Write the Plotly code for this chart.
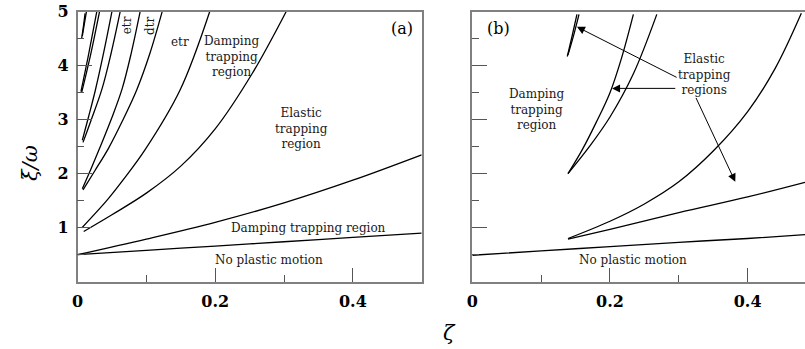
import plotly.graph_objects as go

# ---------------- Panel (a) data ----------------
a_low_x = [0, 0.1, 0.2, 0.3, 0.4, 0.5]
a_low_y = [0.5, 0.58, 0.66, 0.74, 0.82, 0.9]

a_up_x = [0, 0.1, 0.2, 0.3, 0.4, 0.5]
a_up_y = [0.5, 0.79, 1.1, 1.46, 1.88, 2.35]

# pair A (cusp near 0.95)
aA_in_x = [0.0065, 0.043, 0.066, 0.098, 0.149, 0.192]
aA_in_y = [1.0, 1.51, 1.88, 2.44, 3.55, 5.0]
aA_out_x = [0.009, 0.05, 0.1, 0.15, 0.2, 0.254, 0.303]
aA_out_y = [0.93, 1.24, 1.64, 2.14, 2.83, 3.86, 5.0]

# pair B (cusp near 1.72)
aB_in_x = [0.007, 0.02, 0.035, 0.05, 0.065, 0.078, 0.091]
aB_in_y = [1.72, 2.1, 2.56, 3.04, 3.58, 4.23, 5.0]
aB_out_x = [0.008, 0.025, 0.045, 0.065, 0.086, 0.105, 0.123]
aB_out_y = [1.70, 2.05, 2.47, 2.97, 3.55, 4.22, 5.0]

# pair C (cusp near 2.6)
aC_in_x = [0.007, 0.016, 0.026, 0.038, 0.05]
aC_in_y = [2.62, 3.05, 3.55, 4.24, 5.0]
aC_out_x = [0.008, 0.02, 0.0356, 0.049, 0.062]
aC_out_y = [2.58, 3.0, 3.57, 4.24, 5.0]

# pair D (cusp near 3.5)
aD_in_x = [0.005, 0.016, 0.028]
aD_in_y = [3.52, 4.2, 5.0]
aD_out_x = [0.006, 0.019, 0.032]
aD_out_y = [3.50, 4.2, 5.0]

# pair E (cusp near 4.5)
aE_in_x = [0.006, 0.0085, 0.011]
aE_in_y = [4.5, 4.72, 4.97]
aE_out_x = [0.007, 0.010, 0.013]
aE_out_y = [4.55, 4.78, 5.0]

# ---------------- Panel (b) data ----------------
b_low_x = [0, 0.1, 0.2, 0.3, 0.4, 0.4833]
b_low_y = [0.49, 0.57, 0.65, 0.73, 0.80, 0.87]

b_mid_x = [0.139, 0.2, 0.3, 0.4, 0.4833]
b_mid_y = [0.79, 0.97, 1.28, 1.57, 1.84]

b_big_x = [0.139, 0.2, 0.25, 0.3, 0.35, 0.4, 0.44, 0.478]
b_big_y = [0.80, 1.12, 1.44, 1.85, 2.42, 3.15, 3.95, 4.97]

b_in_x = [0.139, 0.16, 0.18, 0.2, 0.217, 0.234]
b_in_y = [2.0, 2.45, 2.95, 3.5, 4.15, 4.95]
b_out_x = [0.139, 0.17, 0.2, 0.234, 0.268]
b_out_y = [2.0, 2.5, 3.05, 3.85, 4.95]

b_sl1_x = [0.138, 0.145, 0.152]
b_sl1_y = [4.17, 4.55, 4.95]
b_sl2_x = [0.139, 0.148, 0.155]
b_sl2_y = [4.2, 4.6, 4.95]

# arrows in (b): (head_x, head_y, tail_x, tail_y)
arrow_head_x = [0.152, 0.203, 0.382]
arrow_head_y = [4.72, 3.58, 1.85]
arrow_tail_x = [0.299, 0.297, 0.324]
arrow_tail_y = [3.77, 3.58, 3.43]

x_tick_vals = [0, 0.2, 0.4]
x_tick_text = ["0", "0.2", "0.4"]
x_minor_vals = [0.1, 0.3, 0.5]
y_tick_vals = [1, 2, 3, 4, 5]
y_tick_text = ["1", "2", "3", "4", "5"]
y_minor_vals = [0.5, 1.5, 2.5, 3.5, 4.5]

SERIF = "DejaVu Serif"
LINE = dict(color="black", width=1.3)

curves_a = [
    (a_low_x, a_low_y), (a_up_x, a_up_y),
    (aA_in_x, aA_in_y), (aA_out_x, aA_out_y),
    (aB_in_x, aB_in_y), (aB_out_x, aB_out_y),
    (aC_in_x, aC_in_y), (aC_out_x, aC_out_y),
    (aD_in_x, aD_in_y), (aD_out_x, aD_out_y),
    (aE_in_x, aE_in_y), (aE_out_x, aE_out_y),
]
curves_b = [
    (b_low_x, b_low_y), (b_mid_x, b_mid_y), (b_big_x, b_big_y),
    (b_in_x, b_in_y), (b_out_x, b_out_y),
    (b_sl1_x, b_sl1_y), (b_sl2_x, b_sl2_y),
]

fig = go.Figure()
for xs, ys in curves_a:
    fig.add_trace(go.Scatter(x=xs, y=ys, mode="lines", line=dict(LINE, shape="spline", smoothing=1.0),
                             xaxis="x", yaxis="y", showlegend=False, hoverinfo="skip"))
for xs, ys in curves_b:
    fig.add_trace(go.Scatter(x=xs, y=ys, mode="lines", line=dict(LINE, shape="spline", smoothing=1.0),
                             xaxis="x2", yaxis="y2", showlegend=False, hoverinfo="skip"))

tickfont = dict(family=SERIF, size=16, color="black", weight="bold")
ax_common = dict(showline=True, linecolor="#808080", linewidth=1.5, ticks="inside",
                 tickcolor="#555555", tickwidth=1.2, showgrid=False, zeroline=False,
                 tickfont=tickfont)

ydom = [1 - 281.7 / 349, 1 - 11.7 / 349]
fig.update_layout(
    width=805, height=349, margin=dict(l=0, r=0, t=0, b=0, pad=0, autoexpand=False),
    paper_bgcolor="white", plot_bgcolor="white", showlegend=False,
    xaxis=dict(ax_common, domain=[77.5 / 805, 421.7 / 805], range=[0, 0.5], anchor="y", mirror=True,
               tickvals=x_tick_vals, ticktext=x_tick_text, ticklen=14, automargin=False,
               ticklabelstandoff=4,
               minor=dict(tickvals=x_minor_vals, ticks="inside", ticklen=7, tickcolor="#555555")),
    yaxis=dict(ax_common, domain=ydom, range=[0, 5], anchor="x", mirror=True, automargin=False,
               tickvals=y_tick_vals, ticktext=y_tick_text, ticklen=15, ticklabelstandoff=4,
               minor=dict(tickvals=y_minor_vals, ticks="inside", ticklen=7, tickcolor="#555555")),
    xaxis2=dict(ax_common, domain=[472.3 / 805, 1.0], range=[0, 0.4833], anchor="y2", mirror=True,
                tickvals=x_tick_vals, ticktext=x_tick_text, ticklen=14, automargin=False,
                ticklabelstandoff=4,
                minor=dict(tickvals=x_minor_vals, ticks="inside", ticklen=7, tickcolor="#555555")),
    yaxis2=dict(ax_common, domain=ydom, range=[0, 5], anchor="x2", mirror=False, automargin=False,
                tickvals=y_tick_vals, ticklen=15, showticklabels=False,
                minor=dict(tickvals=y_minor_vals, ticks="inside", ticklen=7, tickcolor="#555555")),
)

tf = dict(family=SERIF, size=12, color="#1a1a1a")
ann = []
def lab(text, x, y, xr="x", yr="y", font=tf, angle=0):
    ann.append(dict(text=text, x=x, y=y, xref=xr, yref=yr, showarrow=False, font=font,
                    textangle=angle, xanchor="center", yanchor="middle"))

lab("etr", 0.072, 4.75, angle=-90)
lab("dtr", 0.105, 4.75, angle=-90)
lab("etr", 0.149, 4.44)
lab("Damping<br>trapping<br>region", 0.224, 4.17)
lab("Elastic<br>trapping<br>region", 0.326, 2.84)
lab("Damping trapping region", 0.335, 1.0)
lab("No plastic motion", 0.278, 0.41)
lab("(a)", 0.471, 4.69, font=dict(family=SERIF, size=16, color="black"))

lab("Damping<br>trapping<br>region", 0.0935, 3.18, "x2", "y2")
lab("Elastic<br>trapping<br>regions", 0.338, 3.83, "x2", "y2")
lab("No plastic motion", 0.234, 0.40, "x2", "y2")
lab("(b)", 0.038, 4.69, "x2", "y2", font=dict(family=SERIF, size=16, color="black"))

for hx, hy, tx, ty in zip(arrow_head_x, arrow_head_y, arrow_tail_x, arrow_tail_y):
    ann.append(dict(text="", x=hx, y=hy, ax=tx, ay=ty, xref="x2", yref="y2", axref="x2", ayref="y2",
                    showarrow=True, arrowhead=2, arrowsize=1.6, arrowwidth=1, arrowcolor="black",
                    standoff=0, startstandoff=0))

# axis titles
ann.append(dict(text="ξ̇/ω", x=30 / 805, y=1 - 163 / 349, xref="paper", yref="paper", showarrow=False,
                xanchor="center", yanchor="middle", textangle=-90,
                font=dict(family=SERIF, size=21, style="italic", color="black")))
ann.append(dict(text="ζ", x=450 / 805, y=1 - 333 / 349, xref="paper", yref="paper", showarrow=False,
                xanchor="center", yanchor="middle",
                font=dict(family=SERIF, size=21, style="italic", color="black")))

fig.update_layout(annotations=ann)
fig.write_html("out.html", config={"displayModeBar": False},
               post_script="document.body.style.margin='0px';")
